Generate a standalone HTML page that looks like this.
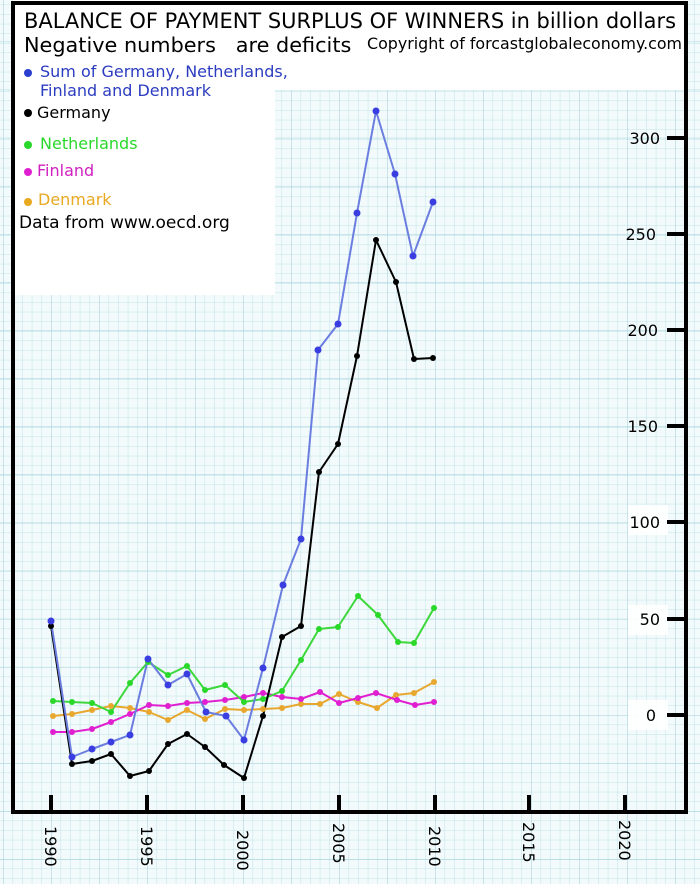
<!DOCTYPE html>
<html><head><meta charset="utf-8"><style>
html,body{margin:0;padding:0;background:#fff}
svg{display:block}
text{font-family:"DejaVu Sans","Liberation Sans",sans-serif}
</style></head><body>
<svg width="700" height="884" viewBox="0 0 700 884" xmlns="http://www.w3.org/2000/svg">
<defs>
<pattern id="minor" x="51" y="715" width="9.6" height="9.6" patternUnits="userSpaceOnUse">
<path d="M0 0H9.6M0 0V9.6" stroke="#bde3e8" stroke-width="1" fill="none"/>
</pattern>
<pattern id="major" x="51" y="715" width="48" height="48.1" patternUnits="userSpaceOnUse">
<path d="M0 0H48M0 0V48.1" stroke="#9fd0d8" stroke-width="1" fill="none"/>
</pattern>
</defs>
<rect width="700" height="884" fill="#f3fafb"/>
<rect width="700" height="884" fill="url(#minor)"/>
<rect width="700" height="884" fill="url(#major)"/>
<rect x="13" y="0" width="675" height="90" fill="#fff"/>
<rect x="13" y="88" width="262" height="207" fill="#fff"/>
<rect x="628" y="505" width="40" height="30" fill="#fff" opacity="0.9"/>
<rect x="628" y="605" width="40" height="30" fill="#fff" opacity="0.9"/>
<rect x="628" y="700" width="40" height="30" fill="#fff" opacity="0.9"/>
<path d="M13 3 H686 V812 H13 Z" fill="none" stroke="#000" stroke-width="4"/>
<g stroke="#000" stroke-width="4">
<line x1="667" y1="138" x2="686" y2="138"/><line x1="667" y1="234" x2="686" y2="234"/>
<line x1="667" y1="330" x2="686" y2="330"/><line x1="667" y1="426" x2="686" y2="426"/>
<line x1="667" y1="522" x2="686" y2="522"/><line x1="667" y1="619" x2="686" y2="619"/>
<line x1="667" y1="715" x2="686" y2="715"/>
<line x1="51" y1="795" x2="51" y2="812"/><line x1="147" y1="795" x2="147" y2="812"/>
<line x1="243" y1="795" x2="243" y2="812"/><line x1="339" y1="795" x2="339" y2="812"/>
<line x1="435" y1="795" x2="435" y2="812"/><line x1="529" y1="795" x2="529" y2="812"/>
<line x1="625" y1="795" x2="625" y2="812"/>
</g>
<g font-size="16" text-anchor="end" fill="#000">
<text x="660" y="144">300</text><text x="656" y="240">250</text>
<text x="658" y="336">200</text><text x="658" y="432">150</text>
<text x="660" y="528">100</text><text x="660" y="625">50</text>
<text x="656" y="721">0</text>
</g>
<g font-size="16" fill="#000">
<text transform="translate(45,826) rotate(90)">1990</text>
<text transform="translate(141,826) rotate(90)">1995</text>
<text transform="translate(237,830) rotate(90)">2000</text>
<text transform="translate(333,823) rotate(90)">2005</text>
<text transform="translate(429,826) rotate(90)">2010</text>
<text transform="translate(523,822) rotate(90)">2015</text>
<text transform="translate(619,820) rotate(90)">2020</text>
</g>
<text x="24" y="28" font-size="21.6" fill="#000" textLength="652" lengthAdjust="spacingAndGlyphs">BALANCE OF PAYMENT SURPLUS OF WINNERS in billion dollars</text>
<text x="24" y="52" font-size="20.8" fill="#000" xml:space="preserve">Negative numbers   are deficits</text>
<text x="367" y="49" font-size="16" fill="#000" textLength="315" lengthAdjust="spacingAndGlyphs">Copyright of forcastglobaleconomy.com</text>
<g font-size="16">
<circle cx="28" cy="73" r="4" fill="#2a3fd0"/>
<text x="40" y="77" fill="#2b3cc0">Sum of Germany, Netherlands,</text>
<text x="40" y="96" fill="#2b3cc0">Finland and Denmark</text>
<circle cx="28" cy="113" r="4" fill="#000"/><text x="37" y="118" fill="#000">Germany</text>
<circle cx="28" cy="145" r="4" fill="#2ad82a"/><text x="40" y="149" fill="#2ad82a">Netherlands</text>
<circle cx="28" cy="172" r="4" fill="#e020d0"/><text x="37" y="176" fill="#d020c0">Finland</text>
<circle cx="28" cy="202" r="4" fill="#e8a820"/><text x="38" y="205" fill="#e8a820">Denmark</text>
<text x="19" y="228" font-size="17" fill="#000">Data from www.oecd.org</text>
</g>
<g fill="none" stroke-width="2" stroke-linejoin="round">
<polyline id="dk" stroke="#e8a830" points="53,716 72,714 92,710 111,706 130,708 149,712 168,720 187,710 205,719 225,709 244,710 263,709 282,708 301,704 320,704 339,694 358,702 377,708 396,695 414,693 434,682"/>
<polyline id="fi" stroke="#e020d0" points="53,732 72,732 92,729 111,722 130,714 149,705 168,706 187,703 205,702 225,700 244,697 263,693 282,697 301,699 320,692 339,703 358,698 376,693 397,700 415,705 434,702"/>
<polyline id="nl" stroke="#3cd83c" points="53,701 72,702 92,703 111,712 130,683 148,662 168,675 187,666 205,690 225,685 244,702 263,699 282,691 301,660 319,629 338,627 358,596 378,615 398,642 414,643 434,608"/>
<polyline id="de" stroke="#000" points="51,626 72,764 92,761 111,754 130,776 149,771 168,744 187,734 205,747 224,765 244,778 263,716 282,637 301,626 319,472 338,444 357,356 376,240 396,282 414,359 433,358"/>
<polyline id="sum" stroke="#6b7ee0" points="51,621 72,757 92,749 111,742 130,735 148,659 168,685 187,674 206,712 226,716 244,740 263,668 283,585 301,539 318,350 338,324 357,213 376,111 395,174 413,256 433,202"/>
</g>
<g id="dots"></g>
<script>
var cols={dk:"#e8a830",fi:"#e020d0",nl:"#2ad82a",de:"#000",sum:"#3a3ee0"};
var g=document.getElementById("dots");
for(var k in cols){var pts=document.getElementById(k).getAttribute("points").trim().split(/\s+/);
pts.forEach(function(p){var a=p.split(",");var c=document.createElementNS("http://www.w3.org/2000/svg","circle");
c.setAttribute("cx",a[0]);c.setAttribute("cy",a[1]);c.setAttribute("r",k=="sum"?3.5:3);c.setAttribute("fill",cols[k]);g.appendChild(c);});}
</script>
</svg>
</body></html>
